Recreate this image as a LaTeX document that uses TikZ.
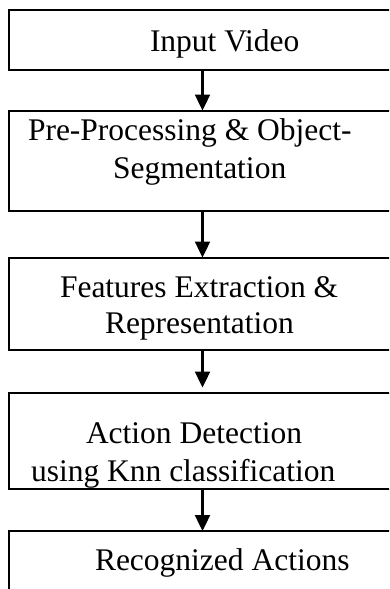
\documentclass[tikz,border=0pt]{standalone}
\usepackage{fontspec}
\setmainfont{Liberation Serif}
\usetikzlibrary{arrows.meta}

\tikzset{
  stagebox/.style={draw=black, line width=2pt, rectangle, inner sep=0pt, outer sep=0pt,
                   minimum width=434pt},
  caption/.style={anchor=base west, inner sep=0pt, outer sep=0pt,
                  font=\fontsize{31.5}{38}\selectfont},
  flow/.style={line width=2.4pt, -{Triangle[length=16pt,width=15pt]}},
}

\begin{document}
\begin{tikzpicture}[x=1pt, y=-1pt]
  \useasboundingbox (0,0) rectangle (389,589);
  \clip (0,0) rectangle (389,589);

  % stage frames
  \node[stagebox, minimum height=60pt]    (b1) at (226,40)     {};
  \node[stagebox, minimum height=100pt]   (b2) at (226,160.5)  {};
  \node[stagebox, minimum height=92.5pt]  (b3) at (226,303.75) {};
  \node[stagebox, minimum height=96pt]    (b4) at (226,441)    {};
  \node[stagebox, minimum height=110pt]   (b5) at (226,586)    {};

  % stage captions
  \node[caption] (t1)  at (150,51.7) {Input Video};
  \node[caption] (t2a) at (28,140)   {Pre-Processing \& Object-};
  \node[caption] (t2b) at (113,178)  {Segmentation};
  \node[caption] (t3a) at (60,297)   {Features Extraction \&};
  \node[caption] (t3b) at (105,333)  {Representation};
  \node[caption] (t4a) at (86,443)   {Action Detection};
  \node[caption] (t4b) at (31,481)   {using Knn classification};
  \node[caption] (t5)  at (95,570)   {Recognized Actions};

  % flow between stages
  \coordinate (ax) at (202.5,0);
  \draw[flow] (b1.south -| ax) -- (b2.north -| ax);
  \draw[flow] (b2.south -| ax) -- (b3.north -| ax);
  \draw[flow, shorten >=5.5pt] (b3.south -| ax) -- (b4.north -| ax);
  \draw[flow] (b4.south -| ax) -- (b5.north -| ax);
\end{tikzpicture}
\end{document}
